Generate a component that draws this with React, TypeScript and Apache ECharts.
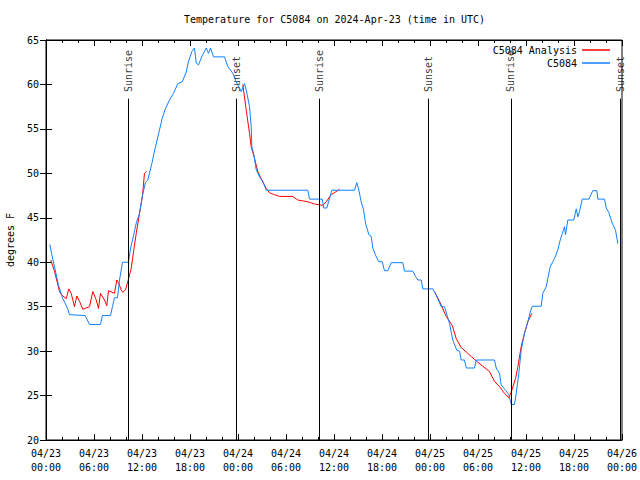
import React, { useEffect, useRef } from "react";
import * as echarts from "echarts";

const titleText = "Temperature for C5084 on 2024-Apr-23 (time in UTC)";
const dayLabels = ["04/23", "04/24", "04/25", "04/26"];
const yLabel = "degrees F";

// C5084 observations: hours since 04/23 00:00 UTC, temperature in F
const obsHours = [
  0.48, 0.69, 1.06, 1.56, 2.06, 2.44, 2.69, 2.94, 4.9, 5.44, 6.81, 7.06, 8.06, 8.31, 8.56, 8.94, 9.19, 9.56,
  10.31, 10.56, 10.94, 11.31, 11.69, 12.06, 12.44, 12.73, 13.23, 13.56, 13.98, 14.53, 14.94, 15.44, 15.94,
  16.48, 17.03, 17.53, 17.81, 18.23, 18.56, 18.78, 19.06, 19.56, 20.03, 20.31, 20.56, 20.94, 22.31, 22.73,
  23.35, 23.78, 24.4, 24.81, 25.03, 25.44, 25.65, 25.73, 25.98, 26.28, 26.69, 27.1, 27.53, 32.73, 32.94,
  34.53, 34.73, 35.1, 35.73, 38.56, 38.85, 39.06, 39.4, 39.69, 39.94, 40.35, 40.65, 40.85, 41.19, 41.6,
  42.03, 42.31, 42.73, 43.15, 44.6, 44.81, 45.85, 46.19, 46.48, 46.9, 47.1, 48.35, 48.78, 49.4, 49.81,
  50.44, 50.85, 51.35, 51.69, 51.9, 52.31, 52.53, 53.56, 53.78, 56.06, 56.28, 56.69, 56.9, 57.44, 57.85,
  58.06, 58.15, 58.56, 58.78, 59.1, 59.4, 59.81, 60.23, 60.53, 60.78, 61.9, 62.1, 62.53, 62.73, 63.03,
  63.35, 63.56, 63.98, 64.28, 64.53, 64.81, 64.94, 65.23, 65.98, 66.28, 66.48, 66.69, 67.03, 67.85, 68.35,
  68.85, 68.98, 69.81, 70.03, 70.35, 70.78, 71.19, 71.48,
];
const obsTemps = [
  42.0, 41.0, 39.5, 37.4, 36.0, 35.3, 34.8, 34.1, 34.0, 33.0, 33.0, 34.0, 34.0, 35.0, 36.0, 36.0, 38.0, 40.0,
  40.0, 41.5, 43.0, 44.5, 45.5, 47.5, 49.0, 49.25, 51.1, 52.5, 54.1, 56.2, 57.3, 58.25, 59.0,
  60.1, 60.3, 61.4, 62.6, 63.7, 64.1, 62.4, 62.2, 63.3, 64.1, 63.5, 64.1, 63.1, 63.1, 62.0,
  61.25, 60.3, 59.2, 60.1, 59.4, 57.5, 55.25, 53.0, 52.1, 50.4, 49.6, 49.1, 48.1, 48.1, 47.1,
  47.1, 46.1, 46.1, 48.1, 48.1, 48.95, 48.3, 46.8, 45.9, 44.4, 43.1, 42.9, 41.6, 40.8, 40.05,
  40.05, 39.05, 39.05, 39.95, 39.95, 39.0, 39.0, 38.4, 38.0, 38.0, 37.0, 37.0, 36.3, 35.0, 35.0,
  33.1, 31.25, 30.1, 30.0, 29.0, 29.0, 28.1, 28.1, 29.0, 29.0, 28.1, 27.5, 26.2, 25.6, 25.1,
  24.3, 24.0, 24.0, 25.25, 27.5, 30.1, 32.0, 33.3, 34.4, 35.05, 35.05, 36.5, 37.25, 38.2, 39.5,
  40.05, 40.4, 41.4, 42.5, 43.2, 44.0, 43.1, 44.75, 44.75, 46.0, 45.1, 45.7, 47.1, 47.1, 48.05,
  48.05, 47.1, 47.1, 46.1, 45.6, 44.4, 43.6, 42.1,
];

// C5084 Analysis (null = gap)
const anaHours = [
  0.6, 1.06, 1.69, 1.98, 2.53, 2.85, 3.15, 3.56, 3.85, 4.19, 4.6, 5.44, 5.85, 6.28, 6.56, 6.81, 7.31, 7.6,
  7.81, 8.56, 8.85, 9.06, 9.4, 9.6, 9.94, 10.28, 10.65, 10.98, 11.28, 11.69, 12.06, 12.31, 12.56,
  18.0,
  24.6, 25.03, 25.44, 25.65, 26.06, 26.48, 26.9, 27.53, 27.94, 28.56, 29.19, 30.85, 31.48, 32.73, 33.56,
  34.6, 35.03, 35.65, 36.19, 36.69,
  42.0,
  48.56, 49.19, 50.03, 50.78, 51.28, 51.9, 52.53, 53.15, 53.78, 54.6, 55.44, 56.06, 56.69, 57.31, 57.85,
  58.15, 58.69, 58.98, 59.4, 59.81, 60.23, 60.73,
];
const anaTemps = [
  40.25, 39.0, 36.7, 36.3, 35.9, 37.0, 36.5, 35.0, 36.2, 35.6, 34.7, 35.0, 36.7, 35.75, 34.8, 36.5, 35.75, 35.1,
  36.8, 36.5, 38.0, 37.7, 36.9, 36.6, 36.9, 38.0, 39.3, 41.4, 43.25, 45.5, 47.5, 50.0, 50.2,
  null,
  60.0, 57.1, 54.5, 53.0, 51.7, 50.2, 49.4, 48.3, 47.8, 47.6, 47.4, 47.4, 47.0, 46.8, 46.55,
  46.4, 46.8, 47.6, 47.9, 48.2,
  null,
  36.7, 35.6, 33.9, 32.9, 31.4, 30.4, 29.9, 29.4, 28.9, 28.3, 27.7, 26.6, 26.0, 25.25, 24.75,
  25.4, 26.9, 28.25, 30.5, 32.0, 33.3, 34.25,
];

const eventHours = [10.28, 23.75, 34.2, 47.78, 58.1, 71.8];
const eventNames = ["Sunrise", "Sunset", "Sunrise", "Sunset", "Sunrise", "Sunset"];

const FONT = "'DejaVu Sans Mono', 'Liberation Mono', monospace";

export default function App() {
  const ref = useRef<HTMLDivElement>(null);
  useEffect(() => {
    if (!ref.current) return;
    const chart = echarts.init(ref.current, null, { renderer: "svg" });
    const txt = { fontFamily: FONT, fontSize: 10, color: "#000" };
    const xTickFmt = (v: number) => {
      const d = Math.floor(v / 24 + 1e-6);
      const hh = Math.round(v - d * 24);
      return dayLabels[d] + "\n" + String(hh).padStart(2, "0") + ":00";
    };
    const xCommon = {
      type: "value" as const,
      min: 0,
      max: 72,
      interval: 6,
      axisLine: { show: true, lineStyle: { color: "#000", width: 1 } },
      axisTick: { show: true, inside: true, length: 6, lineStyle: { color: "#000" } },
      minorTick: { show: true, splitNumber: 3, length: 3, lineStyle: { color: "#000" } },
      splitLine: { show: false },
      minorSplitLine: { show: false },
    };
    const yCommon = {
      type: "value" as const,
      min: 20,
      max: 65,
      interval: 5,
      axisLine: { show: true, lineStyle: { color: "#000", width: 1 } },
      axisTick: { show: true, inside: true, length: 6, lineStyle: { color: "#000" } },
      splitLine: { show: false },
    };
    const legendCommon = {
      right: 30,
      padding: 0,
      align: "right" as const,
      itemWidth: 28,
      itemHeight: 1.5,
      icon: "rect",
      textStyle: { ...txt, lineHeight: 12 },
    };
    chart.setOption({
      animation: false,
      backgroundColor: "#fff",
      title: {
        text: titleText,
        left: 184,
        top: 14,
        padding: 0,
        textStyle: { ...txt, fontWeight: "normal" },
      },
      legend: [
        { ...legendCommon, data: ["C5084 Analysis"], top: 44 },
        { ...legendCommon, data: ["C5084"], top: 57 },
      ],
      grid: {
        left: 46,
        top: 40,
        width: 576,
        height: 400,
        containLabel: false,
        outerBoundsMode: "none",
        show: true,
        borderColor: "#000",
        borderWidth: 1,
        backgroundColor: "transparent",
      },
      xAxis: [
        {
          ...xCommon,
          position: "bottom",
          axisLabel: { ...txt, margin: 6, lineHeight: 14, formatter: xTickFmt },
        },
        { ...xCommon, position: "top", axisLabel: { show: false } },
      ],
      yAxis: [
        {
          ...yCommon,
          position: "left",
          name: yLabel,
          nameLocation: "middle",
          nameGap: 31,
          nameRotate: 90,
          nameTextStyle: txt,
          axisLabel: { ...txt, margin: 7 },
        },
        { ...yCommon, position: "right", axisLabel: { show: false } },
      ],
      series: [
        {
          name: "events",
          type: "scatter",
          symbolSize: 0,
          silent: true,
          data: eventHours.map((h, i) => ({ value: [h, 59.15], name: eventNames[i] })),
          label: {
            show: true,
            formatter: (p: any) => p.name,
            position: "inside",
            rotate: 90,
            align: "left",
            verticalAlign: "middle",
            ...txt,
          },
          markLine: {
            silent: true,
            symbol: ["none", "none"],
            label: { show: false },
            lineStyle: { color: "#000", width: 1, type: "solid" },
            data: eventHours.map((h) => [{ coord: [h, 20] }, { coord: [h, 58.4] }]),
          },
        },
        {
          name: "C5084 Analysis",
          type: "line",
          showSymbol: false,
          symbol: "none",
          connectNulls: false,
          color: "#ff0000",
          lineStyle: { color: "#ff0000", width: 1 },
          data: anaHours.map((h, i) => [h, anaTemps[i] === null ? "-" : anaTemps[i]]),
        },
        {
          name: "C5084",
          type: "line",
          showSymbol: false,
          symbol: "none",
          color: "#1080ff",
          lineStyle: { color: "#1080ff", width: 1 },
          data: obsHours.map((h, i) => [h, obsTemps[i]]),
        },
      ],
    });
    return () => chart.dispose();
  }, []);
  return (
    <div
      ref={ref}
      style={{ position: "fixed", left: 0, top: 0, width: 640, height: 480 }}
    />
  );
}
